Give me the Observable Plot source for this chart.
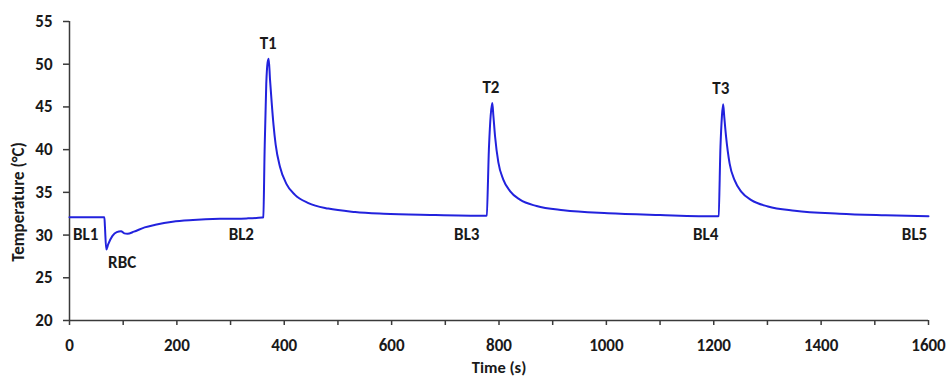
<!DOCTYPE html>
<html>
<head>
<meta charset="utf-8">
<script src="https://cdn.jsdelivr.net/npm/d3@7"></script>
<script src="https://cdn.jsdelivr.net/npm/@observablehq/plot@0.6"></script>
<style>
  html, body { margin: 0; padding: 0; background: #fff; }
  #chart svg { display: block; }
</style>
</head>
<body>
<div id="chart"></div>
<script>
// Time (s)
const time = [
  0, 65, 66, 68.5, 72, 80, 88, 96, 102, 108, 120, 140, 160, 192, 230, 280, 330, 359,
  361, 363.4, 366.5, 369, 371, 373.5, 376.5, 380, 384, 392, 404, 420, 445, 482, 532, 585, 672, 775,
  777, 781.4, 784.5, 787.5, 789.5, 792.6, 798.8, 808, 820.5, 839, 870, 920, 1003, 1100, 1207,
  1209, 1212.5, 1215.2, 1217.5, 1219.5, 1223, 1229.5, 1239, 1251.5, 1270, 1301, 1351, 1434, 1520, 1600
];
// Temperature (°C)
const temperature = [
  32.1, 32.1, 31.0, 28.3, 28.9, 29.9, 30.35, 30.45, 30.2, 30.15, 30.4, 30.9, 31.2, 31.55, 31.75, 31.9, 31.95, 32.05,
  32.1, 39.8, 47.7, 50.2, 50.65, 48.2, 45.6, 42.9, 40.6, 38.0, 36.0, 34.7, 33.75, 33.1, 32.7, 32.5, 32.35, 32.25,
  32.3, 40.4, 44.0, 45.45, 44.0, 41.6, 38.5, 36.5, 35.15, 34.15, 33.4, 32.9, 32.55, 32.35, 32.2,
  32.25, 40.3, 43.9, 45.3, 43.9, 41.5, 38.4, 36.4, 35.05, 34.1, 33.35, 32.85, 32.5, 32.32, 32.2
];
// Annotations
const labelText = ["BL1", "RBC", "BL2", "T1", "BL3", "T2", "BL4", "T3", "BL5"];
const labelX = [30, 98, 320, 370, 740, 785, 1185, 1213, 1574];
const labelY = [30.1, 26.8, 30.1, 52.45, 30.1, 47.3, 30.1, 47.15, 30.1];
// Ticks
const xTicks = d3.range(0, 1601, 100);
const yTicks = d3.range(20, 56, 5);

const series = time.map((t, i) => ({t, v: temperature[i]}));
const labels = labelText.map((s, i) => ({s, x: labelX[i], y: labelY[i]}));

const font = "Carlito, Lato, 'Open Sans', sans-serif";
const axisColor = "#3a3a3a";
const textColor = "#1a1a1a";
const fs = 17;

const chart = Plot.plot({
  width: 949,
  height: 379,
  marginLeft: 69,
  marginRight: 21,
  marginTop: 21,
  marginBottom: 59,
  style: {fontFamily: font, fontWeight: "bold", fontSize: fs + "px", color: textColor, background: "#fff"},
  x: {domain: [0, 1600]},
  y: {domain: [20, 55]},
  marks: [
    Plot.axisX({ticks: xTicks, tickFormat: d => d % 200 === 0 ? String(d) : "", tickSize: 5, tickPadding: 13, stroke: axisColor, strokeWidth: 1.5, label: null, fontSize: fs}),
    Plot.axisY({ticks: yTicks, tickSize: 6, tickPadding: 11, stroke: axisColor, strokeWidth: 1.5, label: null, fontSize: fs}),
    Plot.ruleX([0], {stroke: axisColor, strokeWidth: 1.5}),
    Plot.ruleY([20], {stroke: axisColor, strokeWidth: 1.5}),
    Plot.line(series, {x: "t", y: "v", stroke: "#2222dd", strokeWidth: 2, curve: "monotone-x"}),
    Plot.text(labels, {x: "x", y: "y", text: "s", fontSize: fs, fontWeight: "bold", fill: textColor}),
    Plot.text(["Time (s)"], {frameAnchor: "bottom", textAnchor: "middle", lineAnchor: "middle", dy: 47, fontSize: 16.5, fontWeight: "bold", fill: textColor}),
    Plot.text(["Temperature (°C)"], {frameAnchor: "left", textAnchor: "middle", lineAnchor: "middle", rotate: -90, dx: -51, dy: 31, fontSize: fs, fontWeight: "bold", fill: textColor})
  ]
});
document.getElementById("chart").appendChild(chart);
</script>
</body>
</html>
